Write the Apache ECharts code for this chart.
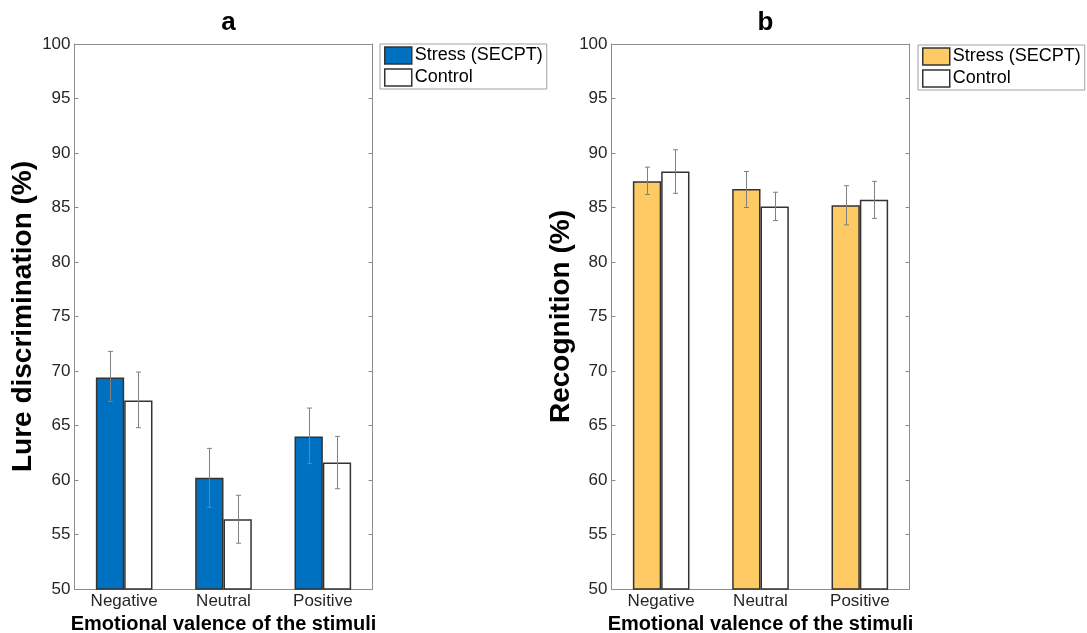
<!DOCTYPE html>
<html>
<head>
<meta charset="utf-8">
<style>
  html, body { margin: 0; padding: 0; background: #fff; }
  #chart { width: 1087px; height: 633px; }
</style>
<script src="https://cdn.jsdelivr.net/npm/echarts@6/dist/echarts.min.js"></script>
</head>
<body>
<div id="chart"></div>
<script>
// data
const categories = ["Negative", "Neutral", "Positive"];
const groups = ["Stress (SECPT)", "Control"];

// panel a: lure discrimination (%)
const lureStress = [69.4, 60.2, 64.0];
const lureStressErr = [[67.2, 71.8], [57.5, 62.9], [61.5, 66.6]];
const lureControl = [67.3, 56.4, 61.6];
const lureControlErr = [[64.8, 69.9], [54.2, 58.6], [59.2, 64.0]];

// panel b: recognition (%)
const recStress = [87.4, 86.7, 85.2];
const recStressErr = [[86.2, 88.7], [85.0, 88.3], [83.4, 87.0]];
const recControl = [88.3, 85.1, 85.7];
const recControlErr = [[86.3, 90.3], [83.8, 86.4], [84.0, 87.4]];

const yTicks = [50, 55, 60, 65, 70, 75, 80, 85, 90, 95, 100];

const FONT = "Liberation Sans, Arial, sans-serif";
const BLUE = "#0070c0";
const YELLOW = "#fdca63";
const EDGE = "#333333";
const AXIS = "#8c8c8c";
const TXT = "#262626";
const BAR_FRAC = 0.285; // each bar's share of the category band

const chart = echarts.init(document.getElementById("chart"));

const grids = [
  { left: 74.5, top: 44, width: 298, height: 545, outerBoundsMode: "none", containLabel: false },
  { left: 611.5, top: 44, width: 298, height: 545, outerBoundsMode: "none", containLabel: false }
];

function bottomX(gi, name) {
  return {
    type: "category", gridIndex: gi, data: categories, position: "bottom",
    axisLine: { lineStyle: { color: AXIS, width: 1 } },
    axisTick: { show: false },
    axisLabel: { fontFamily: FONT, fontSize: 17, color: TXT, margin: 4 },
    name: name, nameLocation: "middle", nameGap: 22,
    nameTextStyle: { fontFamily: FONT, fontSize: 20, fontWeight: "bold", color: "#000" }
  };
}
function topX(gi) {
  return {
    type: "category", gridIndex: gi, data: categories, position: "top",
    axisLine: { lineStyle: { color: AXIS, width: 1 } },
    axisTick: { inside: true, length: 4, alignWithLabel: true, lineStyle: { color: AXIS } },
    axisLabel: { show: false }
  };
}
function leftY(gi, name, gap) {
  return {
    type: "value", gridIndex: gi, min: 50, max: 100, interval: 5, position: "left",
    axisLine: { show: true, lineStyle: { color: AXIS, width: 1 } },
    axisTick: { show: true, inside: true, length: 4, lineStyle: { color: AXIS } },
    splitLine: { show: false },
    axisLabel: {
      fontFamily: FONT, fontSize: 17, color: TXT, margin: 4,
      formatter: v => (yTicks.indexOf(v) >= 0 ? String(v) : "")
    },
    name: name, nameLocation: "middle", nameGap: gap, nameRotate: 90,
    nameTextStyle: { fontFamily: FONT, fontSize: 28, fontWeight: "bold", color: "#000" }
  };
}
function rightY(gi) {
  return {
    type: "value", gridIndex: gi, min: 50, max: 100, interval: 5, position: "right",
    axisLine: { show: true, lineStyle: { color: AXIS, width: 1 } },
    axisTick: { show: true, inside: true, length: 4, lineStyle: { color: AXIS } },
    splitLine: { show: false },
    axisLabel: { show: false }
  };
}

function barSeries(name, values, color, axis) {
  return {
    name: name, type: "bar", xAxisIndex: axis, yAxisIndex: axis,
    data: values, barWidth: (BAR_FRAC * 100) + "%", barGap: "0%",
    itemStyle: { color: color, borderColor: EDGE, borderWidth: 1.5 },
    emphasis: { disabled: true }, z: 2
  };
}

function errSeries(ranges, side, axis) {
  return {
    type: "custom", xAxisIndex: axis, yAxisIndex: axis, z: 5, silent: true,
    data: ranges.map((r, i) => [i, r[0], r[1]]),
    encode: { x: 0, y: [1, 2] },
    renderItem: function (params, api) {
      const band = api.size([1, 0])[0];
      const off = side * band * BAR_FRAC / 2;
      const lo = api.coord([api.value(0), api.value(1)]);
      const hi = api.coord([api.value(0), api.value(2)]);
      const x = Math.round(lo[0] + off) + 0.5;
      const cap = 2.5;
      const st = { stroke: "#808080", lineWidth: 1 };
      return {
        type: "group",
        children: [
          { type: "line", shape: { x1: x, y1: hi[1], x2: x, y2: lo[1] }, style: st },
          { type: "line", shape: { x1: x - cap, y1: hi[1], x2: x + cap, y2: hi[1] }, style: st },
          { type: "line", shape: { x1: x - cap, y1: lo[1], x2: x + cap, y2: lo[1] }, style: st }
        ]
      };
    }
  };
}

function legendFor(left, top, color) {
  return {
    left: left, top: top, orient: "vertical",
    backgroundColor: "#fff", borderColor: "#a0a0a0", borderWidth: 1,
    padding: [2, 4, 2, 4], itemGap: 3, itemWidth: 27, itemHeight: 17,
    icon: "rect", selectedMode: false,
    textStyle: { fontFamily: FONT, fontSize: 18, color: "#000", lineHeight: 19, padding: [0, 0, 0, -2] },
    data: [
      { name: groups[0], icon: "rect", itemStyle: { color: color, borderColor: EDGE, borderWidth: 1.5 } },
      { name: groups[1], icon: "rect", itemStyle: { color: "#fff", borderColor: EDGE, borderWidth: 1.5 } }
    ]
  };
}

const option = {
  backgroundColor: "#fff",
  animation: false,
  title: [
    { text: "a", left: 223.5, top: 5, textAlign: "center",
      textStyle: { fontFamily: FONT, fontSize: 26, fontWeight: "bold", color: "#000" } },
    { text: "b", left: 760.5, top: 5, textAlign: "center",
      textStyle: { fontFamily: FONT, fontSize: 26, fontWeight: "bold", color: "#000" } }
  ],
  legend: [legendFor(380, 44, BLUE), legendFor(918, 45, YELLOW)],
  grid: grids,
  xAxis: [
    bottomX(0, "Emotional valence of the stimuli"), topX(0),
    bottomX(1, "Emotional valence of the stimuli"), topX(1)
  ],
  yAxis: [
    leftY(0, "Lure discrimination (%)", 37), rightY(0),
    leftY(1, "Recognition (%)", 36), rightY(1)
  ],
  series: [
    barSeries(groups[0], lureStress, BLUE, 0),
    barSeries(groups[1], lureControl, "#fff", 0),
    errSeries(lureStressErr, -1, 0),
    errSeries(lureControlErr, 1, 0),
    barSeries(groups[0], recStress, YELLOW, 2),
    barSeries(groups[1], recControl, "#fff", 2),
    errSeries(recStressErr, -1, 2),
    errSeries(recControlErr, 1, 2)
  ]
};

chart.setOption(option);
</script>
</body>
</html>
